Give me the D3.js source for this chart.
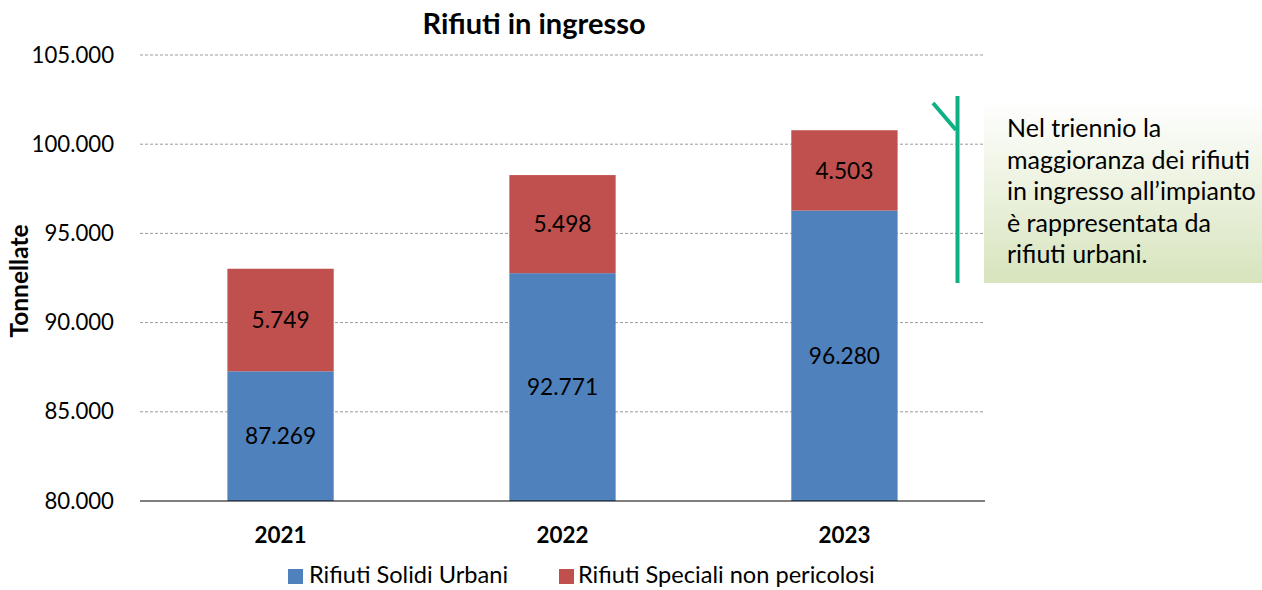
<!DOCTYPE html>
<html><head><meta charset="utf-8">
<script src="https://cdn.jsdelivr.net/npm/d3@7"></script>
<style>body{margin:0;background:#fff;} svg{display:block;font-family:Lato,"Open Sans",sans-serif;}</style>
</head><body>
<svg id="c" width="1262" height="590"></svg>
<script>
const years = ["2021","2022","2023"];
const urbani = [87269, 92771, 96280];
const speciali = [5749, 5498, 4503];
const seriesNames = ["Rifiuti Solidi Urbani","Rifiuti Speciali non pericolosi"];
const colors = ["#4f81bd","#c0504d"];
const yTicks = [80000,85000,90000,95000,100000,105000];
const noteLines = ["Nel triennio la","maggioranza dei rifiuti","in ingresso all\u2019impianto","\u00e8 rappresentata da","rifiuti urbani."];

const svg = d3.select("#c");
const fmt = v => d3.format(",")(v).replace(/,/g,".");
const x = d3.scaleBand().domain(years).range([140,985]).paddingInner(0.623).paddingOuter(0.31);
const y = d3.scaleLinear().domain([80000,105000]).range([501,55]);

// gridlines
svg.append("g").selectAll("line").data(yTicks.slice(1)).join("line")
  .attr("x1",140).attr("x2",985).attr("y1",d=>y(d)).attr("y2",d=>y(d))
  .attr("stroke","#9a9a9a").attr("stroke-width",1).attr("stroke-dasharray","3,2");

// y axis labels
const yAxis = d3.axisLeft(y).tickValues(yTicks).tickFormat(fmt).tickSize(0).tickPadding(0);
const ga = svg.append("g").attr("transform","translate(114,0)").call(yAxis);
ga.select(".domain").remove();
ga.selectAll("text").attr("font-size",22.2).attr("fill","#000").attr("font-family","Lato,'Open Sans',sans-serif");

// stacked data
const data = years.map((yr,i)=>({year:yr, u:urbani[i], s:speciali[i]}));
const stack = d3.stack().keys(["u","s"])(data);
stack.forEach((layer,li)=>{
  const g = svg.append("g");
  g.selectAll("rect").data(layer).join("rect")
    .attr("x",d=>x(d.data.year)).attr("width",x.bandwidth())
    .attr("y",d=>y(d[1])).attr("height",d=>y(Math.max(d[0],80000))-y(d[1]))
    .attr("fill",colors[li]);
  g.selectAll("text").data(layer).join("text")
    .attr("x",d=>x(d.data.year)+x.bandwidth()/2)
    .attr("y",d=>(y(Math.max(d[0],80000))+y(d[1]))/2)
    .attr("dy","0.36em").attr("text-anchor","middle")
    .attr("font-size",22.7).attr("fill","#000")
    .text(d=>fmt(d[1]-d[0]));
});

// baseline
svg.append("line").attr("x1",140).attr("x2",985).attr("y1",501).attr("y2",501).attr("stroke","#000").attr("stroke-width",1.2);

// x labels
const xAxis = d3.axisBottom(x).tickSize(0).tickPadding(0);
const gx = svg.append("g").attr("transform","translate(0,535)").call(xAxis);
gx.select(".domain").remove();
gx.selectAll("text").attr("font-size",22.4).attr("font-weight","bold").attr("fill","#000")
  .attr("dy","0.36em").attr("font-family","Lato,'Open Sans',sans-serif");

// title
svg.append("text").attr("x",534).attr("y",34).attr("text-anchor","middle")
  .attr("font-size",29).attr("font-weight","bold").text("Rifiuti in ingresso");

// y title
svg.append("text").attr("transform","translate(19,281) rotate(-90)").attr("text-anchor","middle")
  .attr("dy","0.36em").attr("font-size",24.5).attr("font-weight","bold").text("Tonnellate");

// legend
const leg = [{x:288,tx:309},{x:559,tx:578}];
leg.forEach((l,i)=>{
  svg.append("rect").attr("x",l.x).attr("y",569).attr("width",15).attr("height",15).attr("fill",colors[i]);
  svg.append("text").attr("x",l.tx).attr("y",575).attr("dy","0.36em").attr("font-size",23.6).text(seriesNames[i]);
});

// annotation box
const defs = svg.append("defs");
const grad = defs.append("linearGradient").attr("id","gr").attr("x1",0).attr("y1",0).attr("x2",0).attr("y2",1);
grad.append("stop").attr("offset","0%").attr("stop-color","#ffffff");
grad.append("stop").attr("offset","100%").attr("stop-color","#d7e4bd");
svg.append("rect").attr("x",984).attr("y",100).attr("width",278).attr("height",183).attr("fill","url(#gr)");
const nt = svg.append("text").attr("font-size",25).attr("fill","#000");
noteLines.forEach((t,i)=>nt.append("tspan").attr("x",1007).attr("y",137+i*31.5).text(t));

// green bracket
svg.append("line").attr("x1",957.5).attr("x2",957.5).attr("y1",96).attr("y2",283).attr("stroke","#0fb083").attr("stroke-width",4);
svg.append("line").attr("x1",933).attr("y1",103).attr("x2",956).attr("y2",130).attr("stroke","#0fb083").attr("stroke-width",4);
</script>
</body></html>
